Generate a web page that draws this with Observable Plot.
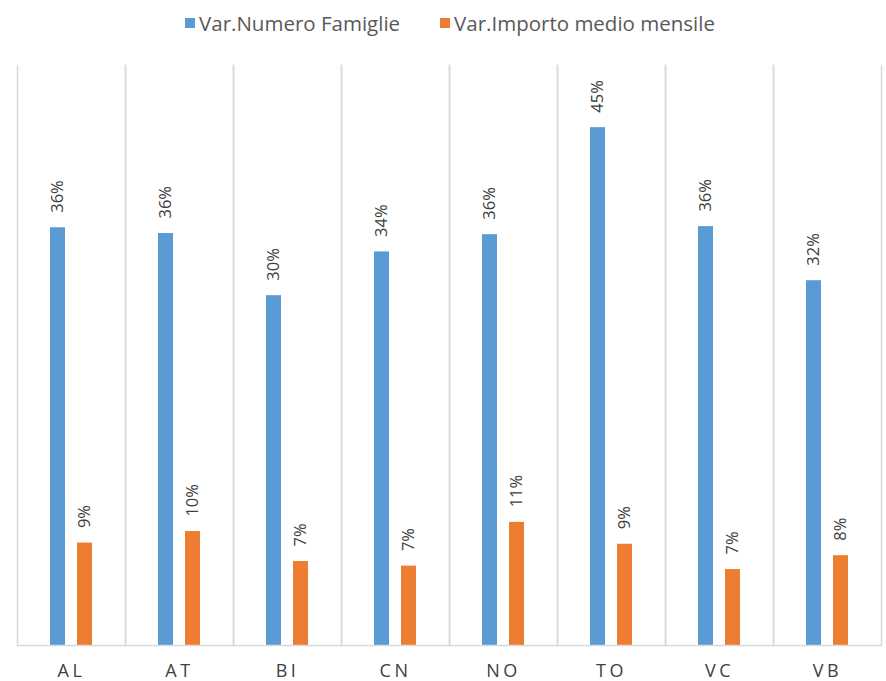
<!DOCTYPE html>
<html>
<head>
<meta charset="utf-8">
<script src="https://cdn.jsdelivr.net/npm/d3@7"></script>
<script src="https://cdn.jsdelivr.net/npm/@observablehq/plot@0.6"></script>
<style>
  html, body { margin: 0; padding: 0; background: #fff; }
  body { width: 886px; height: 681px; overflow: hidden; font-family: "Open Sans", sans-serif; }
  #legend { height: 45px; display: flex; align-items: center; justify-content: center; padding-left: 14px; box-sizing: border-box; color: #595959; font-size: 20.5px; }
  #legend .item { display: flex; align-items: center; margin: 0 20px; }
  #legend .sw { width: 10px; height: 10px; margin-right: 4px; }
  g[aria-label="fx-axis tick label"] text { letter-spacing: 3.5px; }
</style>
</head>
<body>
<div id="legend"></div>
<div id="chart"></div>
<script>
const categories = ["AL", "AT", "BI", "CN", "NO", "TO", "VC", "VB"];
const seriesNames = ["Var.Numero Famiglie", "Var.Importo medio mensile"];
const famiglie = [36.3, 35.8, 30.4, 34.2, 35.7, 45.0, 36.4, 31.7];
const importo = [8.9, 9.9, 7.3, 6.9, 10.7, 8.8, 6.6, 7.8];
const famiglieLabels = ["36%", "36%", "30%", "34%", "36%", "45%", "36%", "32%"];
const importoLabels = ["9%", "10%", "7%", "7%", "11%", "9%", "7%", "8%"];
const colors = ["#5B9BD5", "#ED7D31"];

const data = [];
categories.forEach((c, i) => {
  data.push({cat: c, series: seriesNames[0], value: famiglie[i], label: famiglieLabels[i]});
  data.push({cat: c, series: seriesNames[1], value: importo[i], label: importoLabels[i]});
});

// legend
const legend = document.getElementById("legend");
seriesNames.forEach((s, i) => {
  const it = document.createElement("div");
  it.className = "item";
  const sw = document.createElement("div");
  sw.className = "sw";
  sw.style.background = colors[i];
  const tx = document.createElement("span");
  tx.textContent = s;
  it.appendChild(sw);
  it.appendChild(tx);
  legend.appendChild(it);
});

const chart = Plot.plot({
  width: 886,
  height: 636,
  marginTop: 20,
  marginBottom: 36,
  marginLeft: 14,
  marginRight: 3,
  style: {fontFamily: "Open Sans, sans-serif", color: "#404040", background: "#fff"},
  fx: {domain: categories, padding: 0, label: null},
  x: {domain: seriesNames, axis: null, paddingInner: 0.46, paddingOuter: 1.17},
  y: {domain: [0, 50.4], axis: null},
  color: {domain: seriesNames, range: colors},
  marks: [
    Plot.frame({anchor: "left", stroke: "#d9d9d9", strokeWidth: 1.5}),
    Plot.frame({anchor: "right", stroke: "#d9d9d9", strokeWidth: 1.5}),
    Plot.barY(data, {fx: "cat", x: "series", y: "value", fill: "series"}),
    Plot.ruleY([0], {stroke: "#d9d9d9", strokeWidth: 1.5}),
    Plot.text(data, {
      fx: "cat", x: "series", y: "value",
      text: "label",
      rotate: -90, textAnchor: "start", lineAnchor: "middle",
      dy: -15, fontSize: 16.5, fill: "#404040"
    }),
    Plot.axisFx({anchor: "bottom", tickSize: 0, tickPadding: 19, label: null, fontSize: 18, fill: "#404040"})
  ]
});
document.getElementById("chart").appendChild(chart);
</script>
</body>
</html>
